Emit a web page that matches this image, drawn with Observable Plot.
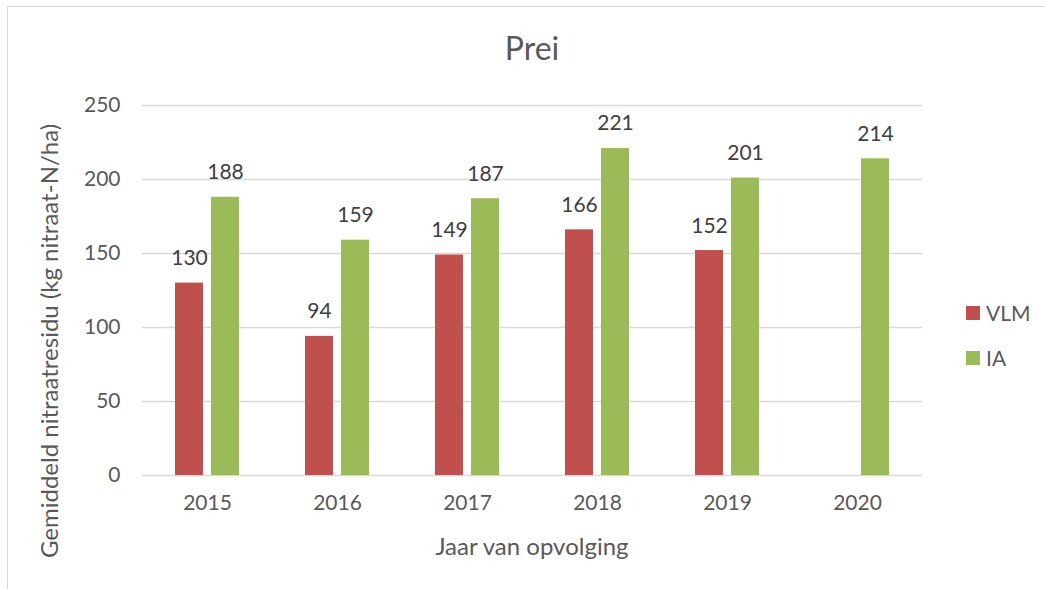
<!DOCTYPE html>
<html>
<head>
<meta charset="utf-8">
<script src="https://cdn.jsdelivr.net/npm/d3@7"></script>
<script src="https://cdn.jsdelivr.net/npm/@observablehq/plot@0.6"></script>
<style>
  html, body { margin: 0; padding: 0; background: #fff; }
  #wrap { position: relative; width: 1045px; height: 589px; overflow: hidden; font-family: Lato, "Open Sans", sans-serif; color: #595959; }
  #frame { position: absolute; left: 7px; top: 6px; width: 1100px; height: 700px; border: 1.5px solid #d9d9d9; box-sizing: border-box; }
  #chart { position: absolute; left: 0; top: 0; }
  #title { position: absolute; left: 0; width: 1064px; top: 28px; text-align: center; font-size: 32px; color: #595959; }
  #ylabel { position: absolute; left: 48px; top: 341px; transform: translate(-50%, -50%) rotate(-90deg); white-space: nowrap; font-size: 24px; color: #595959; }
  #xlabel { position: absolute; left: 0; width: 1064px; top: 531px; text-align: center; font-size: 24px; color: #595959; }
  .leg { position: absolute; left: 966px; font-size: 21px; color: #595959; display: flex; align-items: center; }
  .sw { width: 14px; height: 14px; margin-right: 6px; }
</style>
</head>
<body>
<div id="wrap">
  <div id="frame"></div>
  <div id="chart"></div>
  <div id="title">Prei</div>
  <div id="ylabel">Gemiddeld nitraatresidu (kg nitraat-N/ha)</div>
  <div id="xlabel">Jaar van opvolging</div>
  <div id="legend"></div>
</div>
<script>
const years = ["2015", "2016", "2017", "2018", "2019", "2020"];
const seriesNames = ["VLM", "IA"];
const vlmValues = [130, 94, 149, 166, 152, null];
const iaValues = [188, 159, 187, 221, 201, 214];
const seriesColors = ["#C0504D", "#9BBB59"];
const yTicks = [0, 50, 100, 150, 200, 250];

const rows = [];
years.forEach((yr, i) => {
  if (vlmValues[i] != null) rows.push({year: yr, series: "VLM", value: vlmValues[i]});
  if (iaValues[i] != null) rows.push({year: yr, series: "IA", value: iaValues[i]});
});

const chart = Plot.plot({
  width: 1045,
  height: 589,
  marginLeft: 140,
  marginRight: 121,
  marginTop: 105,
  marginBottom: 114,
  style: {fontFamily: "Lato, 'Open Sans', sans-serif", fontSize: "21px", color: "#595959", background: "transparent"},
  fx: {domain: years, padding: 0},
  x: {domain: seriesNames, paddingInner: 0.216, paddingOuter: 0.874, axis: null},
  y: {domain: [0, 250], ticks: yTicks},
  color: {domain: seriesNames, range: seriesColors},
  marks: [
    Plot.gridY(yTicks, {stroke: "#d9d9d9", strokeOpacity: 1, strokeWidth: 1.5}),
    Plot.barY(rows, {fx: "year", x: "series", y: "value", fill: "series"}),
    Plot.text(rows, {fx: "year", x: "series", y: "value", text: d => String(d.value), dy: -18, lineAnchor: "bottom", fill: "#404040", fontSize: 21}),
    Plot.axisY(yTicks, {tickSize: 0, tickPadding: 22, label: null, fontSize: 21, fill: "#595959"}),
    Plot.axisFx({anchor: "bottom", tickSize: 0, tickPadding: 20, fontSize: 21, fill: "#595959", label: null})
  ]
});
document.getElementById("chart").appendChild(chart);

const legend = document.getElementById("legend");
const legendTops = [300, 345];
seriesNames.forEach((name, i) => {
  const el = document.createElement("div");
  el.className = "leg";
  el.style.top = legendTops[i] + "px";
  el.innerHTML = `<div class="sw" style="background:${seriesColors[i]}"></div><span>${name}</span>`;
  legend.appendChild(el);
});
</script>
</body>
</html>
